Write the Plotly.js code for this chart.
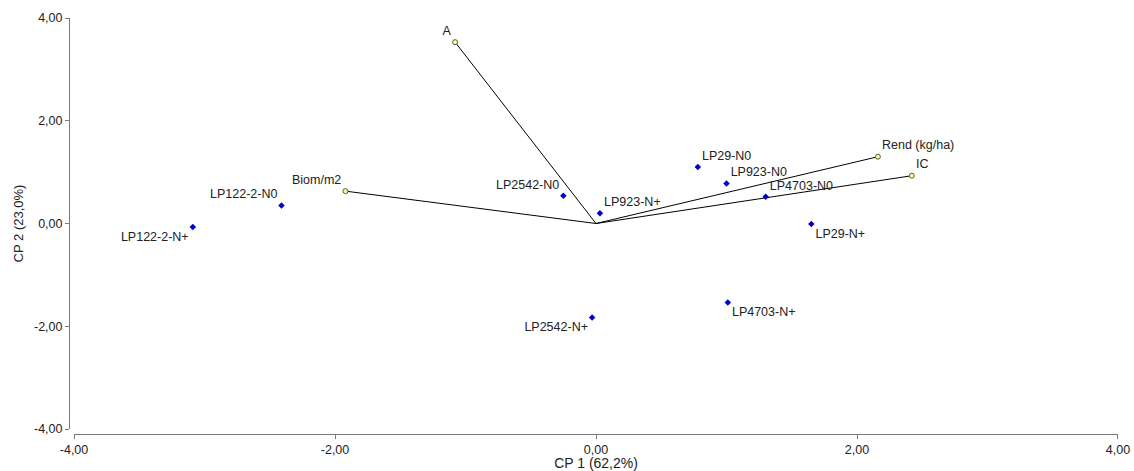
<!DOCTYPE html>
<html>
<head>
<meta charset="utf-8">
<script src="https://cdn.plot.ly/plotly-3.0.1.min.js"></script>
<style>html,body{margin:0;padding:0;background:#fff;}#chart{width:1134px;height:471px;}</style>
</head>
<body>
<div id="chart"></div>
<script>
// Observations (genotype x nitrogen)
const obsNames = ["LP122-2-N+", "LP122-2-N0", "LP2542-N0", "LP923-N+", "LP29-N0", "LP923-N0", "LP4703-N0", "LP29-N+", "LP4703-N+", "LP2542-N+"];
const obsX = [-3.09, -2.41, -0.25, 0.03, 0.78, 1.00, 1.30, 1.65, 1.01, -0.03];
const obsY = [-0.07, 0.35, 0.54, 0.20, 1.10, 0.78, 0.52, -0.01, -1.54, -1.83];

// Variables (loadings)
const varNames = ["A", "Biom/m2", "Rend (kg/ha)", "IC"];
const varX = [-1.08, -1.92, 2.16, 2.42];
const varY = [3.53, 0.63, 1.30, 0.93];

// Axis ticks
const tickVals = [-4, -2, 0, 2, 4];
const tickText = ["-4,00", "-2,00", "0,00", "2,00", "4,00"];
const xTitle = "CP 1 (62,2%)";
const yTitle = "CP 2 (23,0%)";

// label placement (style)
const obsPos = ["bottom left", "top left", "top left", "top right", "top right", "top right", "top right", "bottom right", "bottom right", "bottom left"];
const varPos = ["top left", "top left", "top right", "top right"];

const lx = [], ly = [];
for (let i = 0; i < varX.length; i++) { lx.push(0, varX[i], null); ly.push(0, varY[i], null); }

const font = {family: "Liberation Sans, Arial, sans-serif", size: 12.5, color: "#222"};

const traces = [
  {type: "scatter", mode: "lines", x: lx, y: ly, line: {color: "#000", width: 1}, hoverinfo: "skip", showlegend: false},
  {type: "scatter", mode: "markers+text", x: varX, y: varY, text: varNames, textposition: varPos,
   textfont: font, marker: {symbol: "circle", size: 5, color: "#FFFF88", line: {color: "#555", width: 1}}, showlegend: false},
  {type: "scatter", mode: "markers+text", x: obsX, y: obsY, text: obsNames, textposition: obsPos,
   textfont: font, marker: {symbol: "diamond", size: 5, color: "#0000C8"}, showlegend: false}
];

const axisCommon = {
  range: [-4, 4], tickvals: tickVals, ticktext: tickText, showgrid: false, zeroline: false,
  showline: true, linecolor: "#7a7a7a", linewidth: 1, ticks: "outside", ticklen: 4, tickcolor: "#7a7a7a",
  tickfont: {family: "Liberation Sans, Arial, sans-serif", size: 12.5, color: "#222"},
  anchor: "free", position: 0
};

const layout = {
  width: 1134, height: 471,
  margin: {l: 69, r: 16, t: 18, b: 37},
  paper_bgcolor: "#fff", plot_bgcolor: "#fff",
  showlegend: false,
  xaxis: Object.assign({}, axisCommon, {domain: [0.0048, 1],
    title: {text: xTitle, font: {family: "Liberation Sans, Arial, sans-serif", size: 14, color: "#222"}, standoff: 2}}),
  yaxis: Object.assign({}, axisCommon, {domain: [0.012, 1],
    title: {text: yTitle, font: {family: "Liberation Sans, Arial, sans-serif", size: 13, color: "#222"}, standoff: 6}})
};

Plotly.newPlot("chart", traces, layout, {displayModeBar: false, staticPlot: true});
</script>
</body>
</html>
